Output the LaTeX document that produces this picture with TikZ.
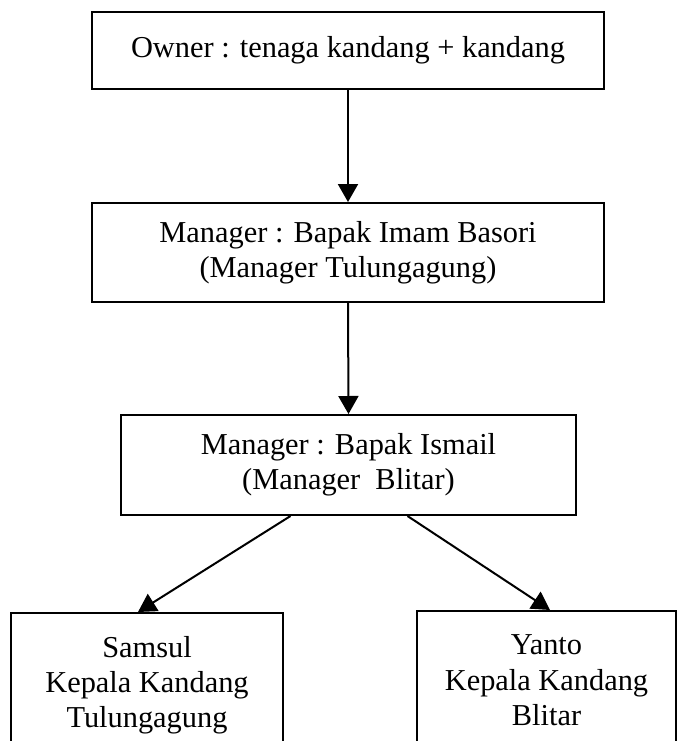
\documentclass[tikz,border=0pt]{standalone}
\usepackage{fontspec}
\setmainfont{Liberation Serif}
\usetikzlibrary{positioning,arrows.meta}

\tikzset{
  kotak/.style={draw, line width=2bp, align=center, inner xsep=0pt},
  panah/.style={line width=2bp, -{Triangle[length=18bp,width=20bp]}}
}

\begin{document}
\begin{tikzpicture}[x=1bp, y=-1bp, every node/.style={font=\fontsize{30.5}{35.5}\selectfont}]
  \useasboundingbox (0,0) rectangle (677,741);
  \clip (0,0) rectangle (677,741);

  \node[kotak, minimum width=512bp, minimum height=77bp] (owner) at (348,50.5) {Owner : tenaga kandang + kandang};
  \node[kotak, minimum width=512bp, minimum height=99bp] (mgrtag) at (348,252.5) {Manager : Bapak Imam Basori\\(Manager Tulungagung)};
  \node[kotak, minimum width=455bp, minimum height=100bp] (mgrblt) at (348.5,465) {Manager : Bapak Ismail\\(Manager\ \ Blitar)};

  % kepala kandang, terpotong di bawah
  \node[kotak, anchor=north, minimum width=272bp, inner ysep=23bp] (samsul) at (147,612) {Samsul\\Kepala Kandang\\Tulungagung};
  \node[kotak, anchor=north, minimum width=259bp, inner ysep=24bp] (yanto) at (546.5,610) {Yanto\\Kepala Kandang\\Blitar};

  \draw[panah] (owner.south) -- (mgrtag.north);
  \draw[panah] (mgrtag.south) -- (mgrblt.north);
  \draw[panah] ([xshift=-58bp]mgrblt.south) -- ([xshift=-9bp]samsul.north);
  \draw[panah] ([xshift=59bp]mgrblt.south) -- ([xshift=3.5bp]yanto.north);
\end{tikzpicture}
\end{document}
